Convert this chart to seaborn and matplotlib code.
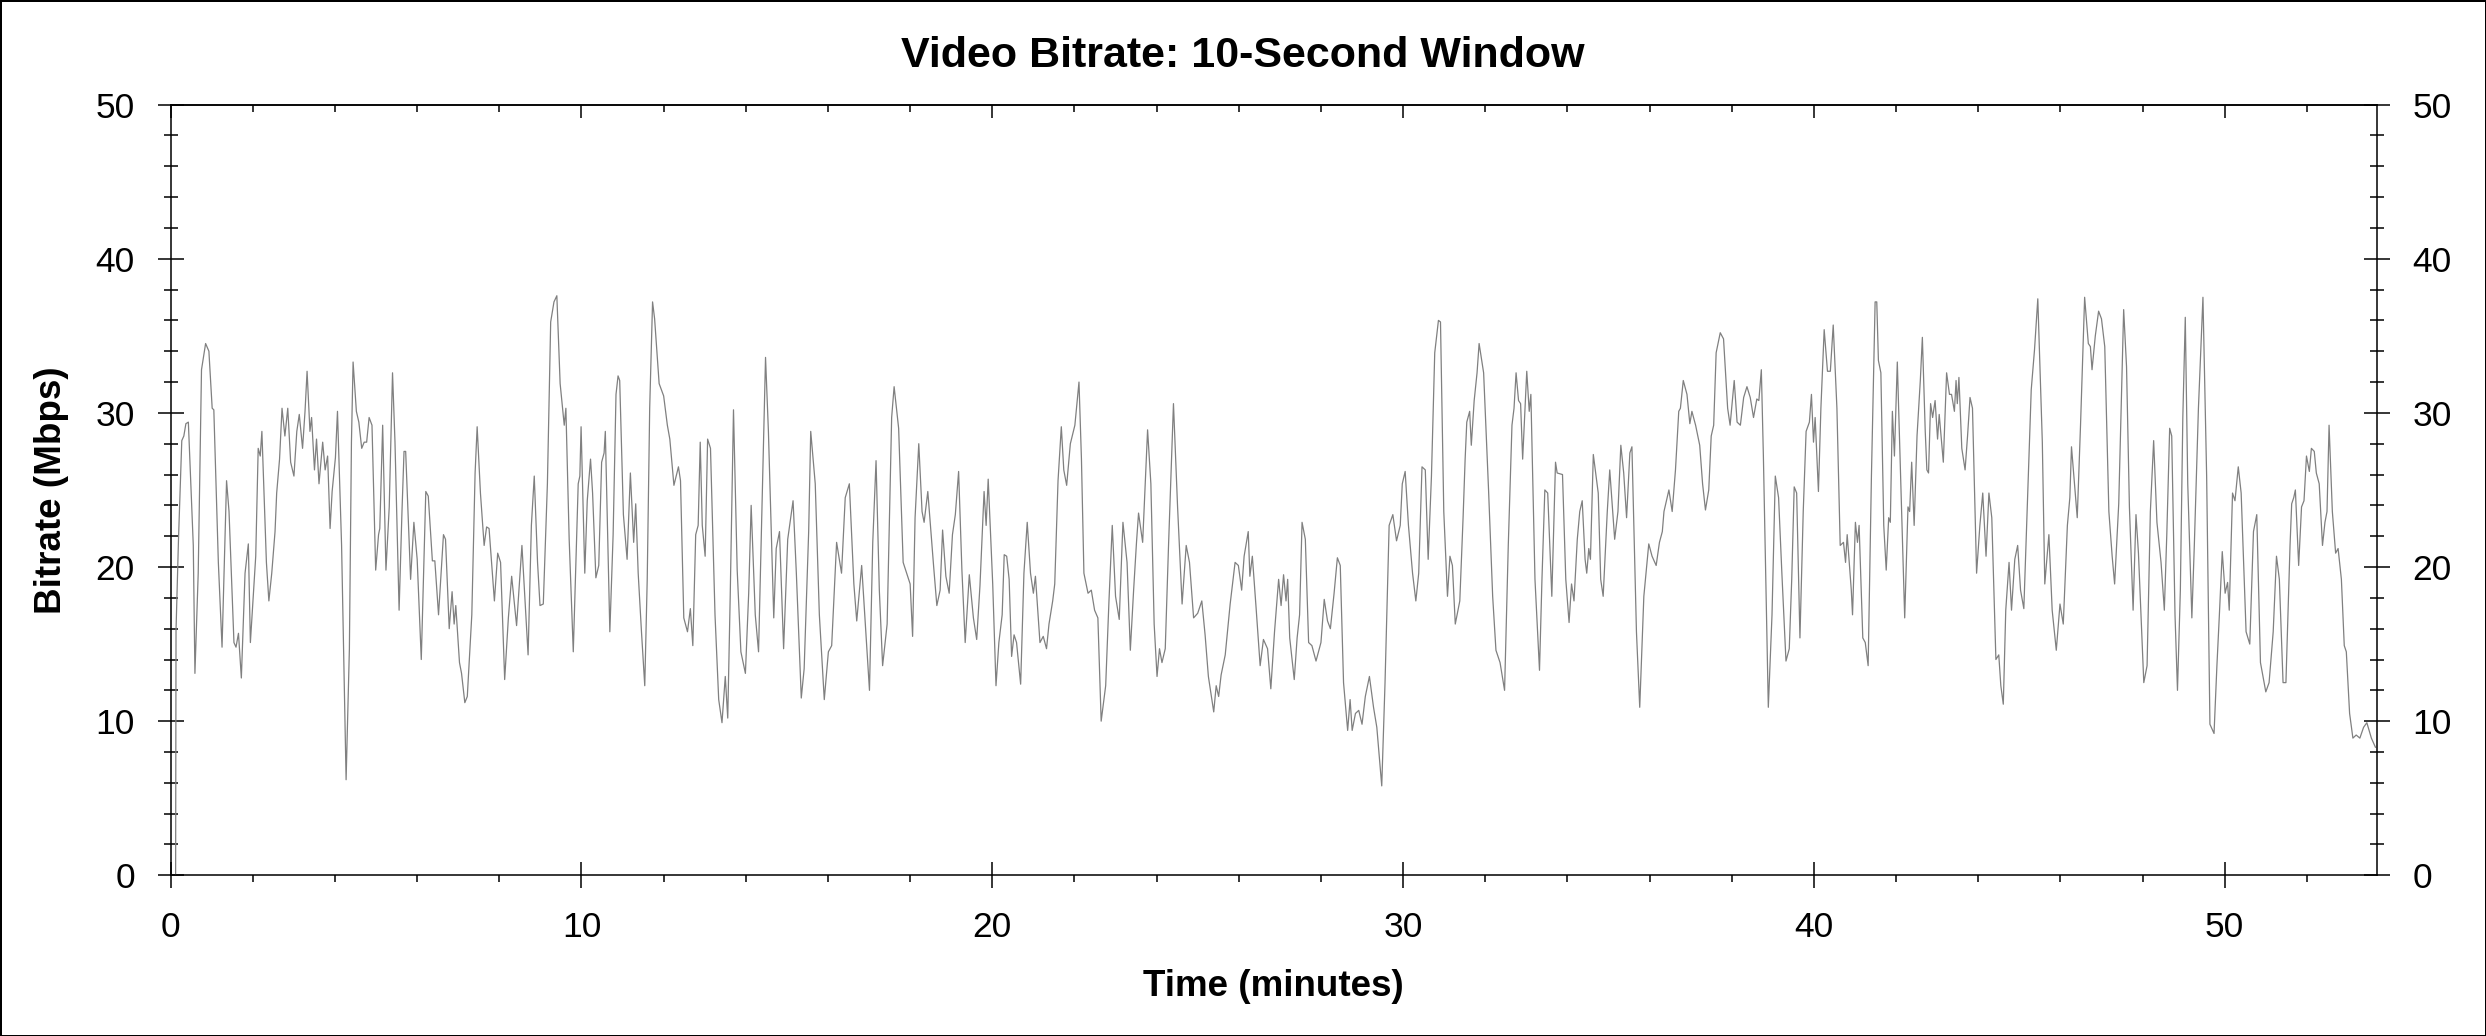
import matplotlib
matplotlib.use("Agg")
import matplotlib.pyplot as plt
from matplotlib.ticker import MultipleLocator
import seaborn as sns
import pandas as pd

# ---- data ----
title_text = "Video Bitrate: 10-Second Window"
x_label = "Time (minutes)"
y_label = "Bitrate (Mbps)"

time_min = [
    0.12, 0.13, 0.19, 0.27, 0.32, 0.37, 0.43, 0.55, 0.59, 0.67,
    0.75, 0.85, 0.93, 1.01, 1.05, 1.16, 1.25, 1.36, 1.42, 1.54,
    1.59, 1.65, 1.72, 1.81, 1.89, 1.94, 2.07, 2.13, 2.18, 2.22,
    2.33, 2.39, 2.46, 2.54, 2.58, 2.65, 2.71, 2.78, 2.85, 2.92,
    3.00, 3.07, 3.13, 3.21, 3.27, 3.32, 3.39, 3.43, 3.50, 3.55,
    3.61, 3.70, 3.76, 3.82, 3.88, 3.93, 4.01, 4.06, 4.16, 4.27,
    4.35, 4.40, 4.44, 4.52, 4.58, 4.65, 4.71, 4.77, 4.83, 4.90,
    4.99, 5.06, 5.09, 5.16, 5.24, 5.32, 5.40, 5.46, 5.56, 5.63,
    5.68, 5.72, 5.84, 5.92, 6.00, 6.10, 6.21, 6.27, 6.37, 6.43,
    6.52, 6.64, 6.69, 6.78, 6.85, 6.90, 6.94, 7.03, 7.08, 7.16,
    7.22, 7.33, 7.41, 7.46, 7.54, 7.63, 7.69, 7.75, 7.88, 7.96,
    8.03, 8.13, 8.22, 8.30, 8.42, 8.55, 8.70, 8.78, 8.85, 8.93,
    8.99, 9.07, 9.17, 9.25, 9.33, 9.40, 9.48, 9.58, 9.62, 9.70,
    9.80, 9.92, 9.96, 9.99, 10.08, 10.14, 10.22, 10.27, 10.35, 10.42,
    10.49, 10.55, 10.58, 10.69, 10.77, 10.84, 10.89, 10.93, 11.02, 11.11,
    11.19, 11.27, 11.32, 11.38, 11.46, 11.54, 11.60, 11.66, 11.73, 11.78,
    11.89, 12.00, 12.09, 12.15, 12.25, 12.36, 12.41, 12.49, 12.58, 12.65,
    12.71, 12.78, 12.84, 12.89, 12.94, 13.01, 13.07, 13.14, 13.25, 13.34,
    13.42, 13.50, 13.56, 13.62, 13.70, 13.79, 13.88, 13.99, 14.07, 14.13,
    14.23, 14.31, 14.41, 14.48, 14.55, 14.68, 14.74, 14.82, 14.92, 15.02,
    15.15, 15.23, 15.35, 15.42, 15.53, 15.58, 15.69, 15.79, 15.91, 16.01,
    16.09, 16.21, 16.33, 16.42, 16.52, 16.63, 16.70, 16.82, 16.90, 17.01,
    17.09, 17.17, 17.25, 17.33, 17.44, 17.55, 17.61, 17.72, 17.83, 18.00,
    18.06, 18.12, 18.21, 18.29, 18.34, 18.43, 18.57, 18.65, 18.73, 18.79,
    18.87, 18.95, 19.03, 19.10, 19.18, 19.26, 19.34, 19.44, 19.54, 19.62,
    19.70, 19.80, 19.85, 19.90, 20.01, 20.09, 20.16, 20.24, 20.29, 20.35,
    20.41, 20.47, 20.53, 20.59, 20.69, 20.77, 20.85, 20.93, 21.00, 21.05,
    21.16, 21.24, 21.32, 21.38, 21.47, 21.52, 21.60, 21.68, 21.74, 21.81,
    21.90, 22.01, 22.11, 22.17, 22.23, 22.33, 22.41, 22.49, 22.57, 22.65,
    22.76, 22.84, 22.92, 23.00, 23.09, 23.18, 23.28, 23.36, 23.44, 23.51,
    23.56, 23.66, 23.78, 23.86, 23.94, 24.01, 24.07, 24.13, 24.21, 24.29,
    24.35, 24.41, 24.51, 24.62, 24.72, 24.80, 24.90, 25.00, 25.10, 25.18,
    25.26, 25.39, 25.45, 25.51, 25.57, 25.67, 25.79, 25.91, 25.99, 26.07,
    26.13, 26.23, 26.27, 26.33, 26.42, 26.52, 26.60, 26.70, 26.78, 26.87,
    26.97, 27.03, 27.09, 27.15, 27.19, 27.24, 27.35, 27.42, 27.48, 27.54,
    27.62, 27.70, 27.78, 27.88, 28.00, 28.08, 28.16, 28.23, 28.32, 28.40,
    28.47, 28.55, 28.65, 28.71, 28.76, 28.84, 28.92, 29.00, 29.08, 29.18,
    29.28, 29.36, 29.48, 29.56, 29.66, 29.75, 29.84, 29.93, 29.98, 30.05,
    30.13, 30.23, 30.31, 30.38, 30.46, 30.54, 30.61, 30.69, 30.77, 30.86,
    30.91, 30.99, 31.08, 31.14, 31.20, 31.27, 31.38, 31.46, 31.51, 31.55,
    31.62, 31.66, 31.73, 31.80, 31.85, 31.89, 31.96, 32.08, 32.18, 32.26,
    32.36, 32.47, 32.56, 32.65, 32.70, 32.75, 32.81, 32.86, 32.91, 33.01,
    33.07, 33.11, 33.21, 33.32, 33.38, 33.45, 33.52, 33.62, 33.71, 33.75,
    33.88, 33.96, 34.04, 34.10, 34.16, 34.24, 34.30, 34.36, 34.43, 34.47,
    34.52, 34.56, 34.63, 34.75, 34.81, 34.87, 34.97, 35.03, 35.15, 35.23,
    35.30, 35.37, 35.44, 35.52, 35.57, 35.68, 35.76, 35.86, 35.98, 36.06,
    36.16, 36.24, 36.31, 36.35, 36.47, 36.55, 36.63, 36.71, 36.75, 36.82,
    36.91, 36.98, 37.03, 37.12, 37.22, 37.29, 37.36, 37.44, 37.50, 37.56,
    37.62, 37.72, 37.80, 37.90, 37.96, 38.06, 38.13, 38.21, 38.29, 38.37,
    38.45, 38.53, 38.61, 38.66, 38.72, 38.77, 38.89, 38.98, 39.06, 39.14,
    39.22, 39.32, 39.40, 39.46, 39.52, 39.58, 39.66, 39.74, 39.81, 39.89,
    39.94, 39.99, 40.03, 40.11, 40.17, 40.25, 40.33, 40.40, 40.47, 40.56,
    40.64, 40.72, 40.77, 40.81, 40.91, 40.94, 41.01, 41.06, 41.10, 41.19,
    41.25, 41.32, 41.40, 41.49, 41.53, 41.57, 41.63, 41.70, 41.76, 41.82,
    41.86, 41.91, 41.96, 42.03, 42.10, 42.21, 42.29, 42.33, 42.38, 42.44,
    42.51, 42.59, 42.64, 42.71, 42.75, 42.79, 42.84, 42.89, 42.95, 43.01,
    43.05, 43.15, 43.23, 43.30, 43.35, 43.42, 43.46, 43.49, 43.53, 43.60,
    43.68, 43.74, 43.80, 43.86, 43.96, 44.04, 44.11, 44.19, 44.26, 44.33,
    44.43, 44.50, 44.55, 44.61, 44.67, 44.75, 44.81, 44.89, 44.96, 45.03,
    45.11, 45.19, 45.29, 45.37, 45.45, 45.56, 45.62, 45.72, 45.80, 45.90,
    45.99, 46.07, 46.17, 46.23, 46.27, 46.41, 46.49, 46.59, 46.68, 46.73,
    46.77, 46.85, 46.93, 47.00, 47.08, 47.18, 47.26, 47.32, 47.42, 47.50,
    47.54, 47.61, 47.68, 47.77, 47.84, 47.90, 48.03, 48.11, 48.19, 48.27,
    48.35, 48.45, 48.53, 48.59, 48.66, 48.71, 48.79, 48.85, 48.92, 48.98,
    49.04, 49.10, 49.20, 49.26, 49.36, 49.47, 49.56, 49.64, 49.74, 49.81,
    49.87, 49.94, 50.01, 50.07, 50.11, 50.19, 50.25, 50.33, 50.40, 50.52,
    50.61, 50.70, 50.78, 50.87, 51.00, 51.08, 51.18, 51.26, 51.33, 51.42,
    51.49, 51.59, 51.63, 51.68, 51.72, 51.80, 51.87, 51.93, 51.99, 52.06,
    52.11, 52.18, 52.23, 52.30, 52.38, 52.44, 52.49, 52.54, 52.62, 52.70,
    52.76, 52.84, 52.91, 52.96, 53.04, 53.12, 53.20, 53.29, 53.38, 53.46,
    53.57, 53.67,
]

bitrate_mbps = [
    0.0, 15.9, 21.8, 28.2, 28.5, 29.3, 29.4, 21.4, 13.1, 19.6,
    32.8, 34.5, 34.0, 30.3, 30.2, 20.3, 14.8, 25.6, 23.6, 15.1,
    14.8, 15.7, 12.8, 19.6, 21.5, 15.1, 20.7, 27.7, 27.2, 28.8,
    20.3, 17.8, 19.6, 22.3, 24.8, 27.0, 30.3, 28.5, 30.3, 26.8,
    25.9, 28.8, 29.9, 27.7, 30.1, 32.7, 28.8, 29.7, 26.3, 28.3,
    25.4, 28.1, 26.3, 27.2, 22.5, 24.9, 27.1, 30.1, 21.4, 6.2,
    14.7, 28.1, 33.3, 30.1, 29.4, 27.7, 28.1, 28.1, 29.7, 29.2,
    19.8, 22.1, 22.5, 29.2, 19.8, 23.9, 32.6, 28.1, 17.2, 23.6,
    27.5, 27.5, 19.2, 22.9, 20.5, 14.0, 24.9, 24.6, 20.4, 20.4,
    16.9, 22.1, 21.8, 16.0, 18.4, 16.3, 17.5, 13.8, 13.1, 11.2,
    11.6, 16.9, 26.1, 29.1, 24.8, 21.4, 22.6, 22.5, 17.8, 20.9,
    20.3, 12.7, 16.7, 19.4, 16.2, 21.4, 14.3, 22.7, 25.9, 20.3,
    17.5, 17.6, 25.4, 35.9, 37.2, 37.6, 31.9, 29.2, 30.3, 21.8,
    14.5, 25.4, 25.9, 29.1, 19.6, 24.3, 27.0, 24.8, 19.3, 20.1,
    26.8, 27.4, 28.8, 15.8, 22.1, 31.2, 32.4, 32.1, 23.4, 20.5,
    26.1, 21.6, 24.1, 19.6, 15.8, 12.3, 19.2, 30.3, 37.2, 36.1,
    31.9, 31.1, 29.2, 28.3, 25.3, 26.5, 25.6, 16.7, 15.8, 17.3,
    14.9, 22.1, 22.7, 28.1, 22.7, 20.7, 28.3, 27.7, 16.9, 11.4,
    9.9, 12.9, 10.2, 18.1, 30.2, 19.8, 14.5, 13.1, 18.3, 24.0,
    16.9, 14.5, 25.9, 33.6, 28.8, 16.7, 21.2, 22.3, 14.7, 21.8,
    24.3, 19.6, 11.5, 13.4, 22.3, 28.8, 25.4, 16.9, 11.4, 14.5,
    14.9, 21.6, 19.6, 24.5, 25.4, 18.9, 16.5, 20.1, 16.7, 12.0,
    21.6, 26.9, 18.5, 13.6, 16.3, 29.7, 31.7, 29.0, 20.3, 18.9,
    15.5, 23.2, 28.0, 23.6, 22.9, 24.9, 20.1, 17.5, 18.5, 22.4,
    19.4, 18.3, 22.1, 23.4, 26.2, 19.8, 15.1, 19.5, 16.7, 15.3,
    18.8, 24.9, 22.7, 25.7, 18.9, 12.3, 15.1, 16.9, 20.8, 20.7,
    19.2, 14.2, 15.6, 15.1, 12.4, 19.6, 22.9, 19.6, 18.3, 19.4,
    15.1, 15.5, 14.7, 16.3, 17.8, 18.9, 25.6, 29.1, 26.3, 25.3,
    28.0, 29.2, 32.0, 27.0, 19.6, 18.3, 18.5, 17.2, 16.7, 10.0,
    12.3, 17.8, 22.7, 18.1, 16.6, 22.9, 20.3, 14.6, 18.5, 21.6,
    23.5, 21.6, 28.9, 25.4, 16.3, 12.9, 14.7, 13.8, 14.7, 21.4,
    25.9, 30.6, 23.9, 17.6, 21.4, 20.3, 16.7, 17.0, 17.8, 15.6,
    12.9, 10.6, 12.3, 11.6, 13.0, 14.3, 17.6, 20.3, 20.1, 18.5,
    20.7, 22.3, 19.4, 20.7, 17.4, 13.6, 15.3, 14.7, 12.1, 15.8,
    19.2, 17.5, 19.5, 17.8, 19.2, 15.4, 12.7, 15.4, 16.9, 22.9,
    21.8, 15.1, 14.9, 13.9, 15.1, 17.9, 16.5, 16.0, 18.3, 20.6,
    20.1, 12.5, 9.4, 11.4, 9.4, 10.5, 10.7, 9.8, 11.6, 12.9,
    10.9, 9.6, 5.8, 12.5, 22.7, 23.4, 21.7, 22.7, 25.4, 26.2,
    22.7, 19.6, 17.8, 19.6, 26.5, 26.3, 20.5, 25.9, 33.9, 36.0,
    35.9, 23.6, 18.1, 20.7, 20.1, 16.3, 17.8, 23.2, 27.0, 29.4,
    30.1, 27.9, 30.8, 32.6, 34.5, 33.8, 32.6, 25.0, 18.1, 14.6,
    13.8, 12.0, 21.4, 29.2, 30.3, 32.6, 30.8, 30.6, 27.0, 32.7,
    30.1, 31.2, 19.2, 13.3, 19.2, 25.0, 24.8, 18.1, 26.8, 26.1,
    26.0, 19.2, 16.4, 18.9, 17.8, 21.8, 23.6, 24.3, 20.5, 19.6,
    21.2, 20.5, 27.3, 24.8, 19.2, 18.1, 23.6, 26.3, 21.8, 23.6,
    27.9, 26.1, 23.2, 27.4, 27.8, 15.8, 10.9, 18.1, 21.5, 20.7,
    20.1, 21.6, 22.3, 23.6, 25.0, 23.6, 26.3, 30.1, 30.3, 32.1,
    31.2, 29.3, 30.1, 29.2, 27.9, 25.4, 23.7, 25.0, 28.5, 29.2,
    33.9, 35.2, 34.8, 30.3, 29.2, 32.1, 29.4, 29.2, 31.0, 31.7,
    31.0, 29.7, 30.9, 30.8, 32.8, 27.2, 10.9, 16.9, 25.9, 24.5,
    19.6, 13.9, 14.7, 19.2, 25.2, 24.8, 15.4, 23.6, 28.8, 29.4,
    31.2, 28.1, 29.7, 24.9, 30.3, 35.4, 32.7, 32.7, 35.7, 30.3,
    21.4, 21.6, 20.3, 22.1, 18.5, 16.9, 22.9, 21.6, 22.7, 15.4,
    15.1, 13.6, 25.9, 37.2, 37.2, 33.4, 32.6, 22.7, 19.8, 23.2,
    22.9, 30.1, 27.2, 33.3, 26.8, 16.7, 23.9, 23.6, 26.8, 22.7,
    28.5, 32.1, 34.9, 28.8, 26.3, 26.1, 30.6, 29.7, 30.8, 28.3,
    29.9, 26.8, 32.6, 31.2, 31.2, 30.1, 32.1, 30.6, 32.3, 27.7,
    26.3, 28.5, 31.0, 30.3, 19.6, 22.7, 24.8, 20.7, 24.8, 23.2,
    14.0, 14.3, 12.3, 11.1, 17.2, 20.3, 17.2, 20.5, 21.4, 18.5,
    17.3, 23.6, 31.5, 34.1, 37.4, 28.1, 18.9, 22.1, 17.2, 14.6,
    17.6, 16.3, 22.7, 24.5, 27.8, 23.2, 29.2, 37.5, 34.5, 34.3,
    32.8, 35.0, 36.6, 36.1, 34.3, 23.6, 20.7, 18.9, 24.1, 32.6,
    36.7, 33.0, 23.9, 17.2, 23.4, 20.9, 12.5, 13.6, 23.6, 28.2,
    22.9, 20.3, 17.2, 22.1, 29.0, 28.5, 16.9, 12.0, 18.5, 29.7,
    36.2, 25.4, 16.7, 21.4, 30.3, 37.5, 25.9, 9.8, 9.2, 13.6,
    16.9, 21.0, 18.3, 19.0, 17.2, 24.8, 24.3, 26.5, 24.8, 15.8,
    15.0, 22.3, 23.4, 13.8, 11.9, 12.5, 15.8, 20.7, 19.2, 12.5,
    12.5, 21.4, 24.1, 24.5, 25.0, 20.1, 23.9, 24.3, 27.2, 26.2,
    27.7, 27.5, 26.1, 25.4, 21.4, 22.9, 23.6, 29.2, 23.6, 20.9,
    21.2, 19.2, 14.9, 14.5, 10.5, 8.9, 9.1, 8.9, 9.6, 9.9,
    8.9, 8.3,
]

x_range = (0, 53.70)
y_range = (0, 50)

# ---- styling ----
sns.set_theme(style="white")
plt.rcParams["font.family"] = ["Liberation Sans", "DejaVu Sans"]

fig = plt.figure(figsize=(24.86, 10.36), dpi=100, facecolor="white",
                 edgecolor="black", linewidth=2)
ax = fig.add_axes([0.06866, 0.15512, 0.88738, 0.74391])

df = pd.DataFrame({x_label: time_min, y_label: bitrate_mbps})
sns.lineplot(data=df, x=x_label, y=y_label, ax=ax, color="#808080",
             linewidth=0.9, estimator=None, sort=False, legend=False)

ax.set_xlim(*x_range)
ax.set_ylim(*y_range)
ax.set_facecolor("white")
ax.grid(False)

ax.xaxis.set_major_locator(MultipleLocator(10))
ax.xaxis.set_minor_locator(MultipleLocator(2))
ax.yaxis.set_major_locator(MultipleLocator(10))
ax.yaxis.set_minor_locator(MultipleLocator(2))

for sp in ax.spines.values():
    sp.set_visible(True)
    sp.set_color("black")
    sp.set_linewidth(1.1)

tick_font = 25.5
ax.tick_params(axis="y", which="major", direction="inout", length=19.4, width=1.1,
               color="black", left=True, right=True, labelleft=True,
               labelright=True, labelsize=tick_font, labelcolor="black", pad=16)
ax.tick_params(axis="y", which="minor", direction="inout", length=10, width=1.1,
               color="black", left=True, right=True)
ax.tick_params(axis="x", which="major", direction="inout", length=19.2, width=1.1,
               color="black", bottom=True, top=False, labelbottom=True,
               labelsize=tick_font, labelcolor="black", pad=16)
ax.tick_params(axis="x", which="minor", direction="out", length=5, width=1.1,
               color="black", bottom=True, top=False)

sec = ax.secondary_xaxis("top")
sec.xaxis.set_major_locator(MultipleLocator(10))
sec.xaxis.set_minor_locator(MultipleLocator(2))
sec.tick_params(axis="x", which="major", direction="in", length=9.4, width=1.1,
                color="black", top=True, labeltop=False)
sec.tick_params(axis="x", which="minor", direction="in", length=4.7, width=1.1,
                color="black", top=True)
sec.spines["top"].set_linewidth(1.1)
sec.spines["top"].set_color("black")

ax.set_xlabel(x_label, fontsize=26.5, fontweight="bold", color="black")
ax.xaxis.label.set_verticalalignment("baseline")
ax.xaxis.set_label_coords(0.5, -0.1562)

ax.set_ylabel(y_label, fontsize=26.5, fontweight="bold", color="black")
ax.yaxis.label.set_verticalalignment("baseline")
ax.yaxis.set_label_coords(-0.0497, 0.5)

fig.text(0.5, 0.9356, title_text, ha="center", va="baseline",
         fontsize=31, fontweight="bold", color="black")

fig.savefig("out.png", dpi=100, facecolor="white", edgecolor="black")
